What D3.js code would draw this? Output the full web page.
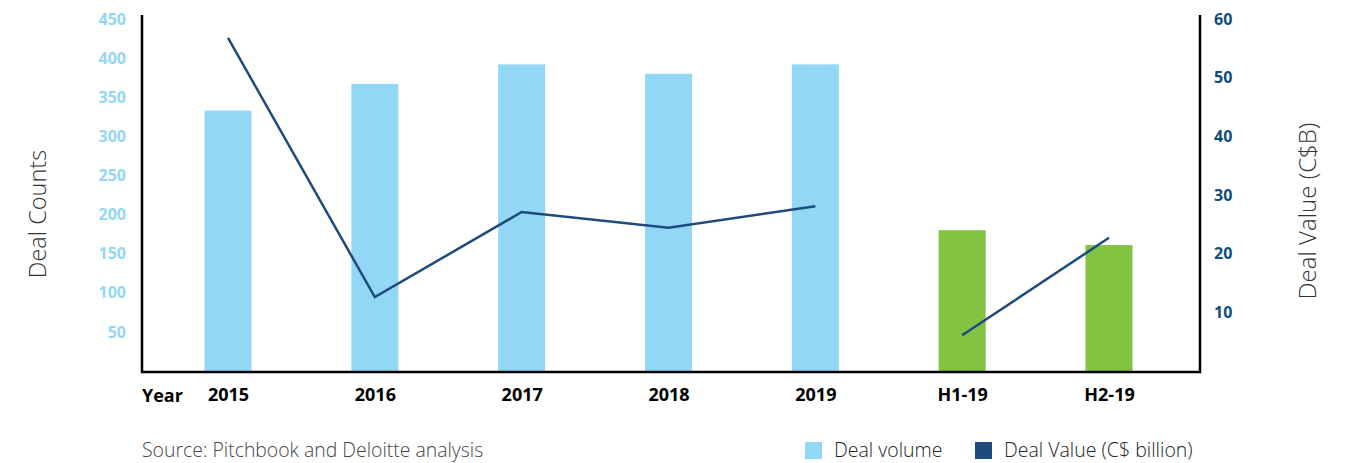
<!DOCTYPE html>
<html>
<head>
<meta charset="utf-8">
<script src="https://cdn.jsdelivr.net/npm/d3@7"></script>
<style>
  body { margin: 0; background: #fff; }
  svg { font-family: "Open Sans", sans-serif; }
</style>
</head>
<body>
<svg id="chart"></svg>
<script>
// chart data
var categories = ["2015", "2016", "2017", "2018", "2019", "H1-19", "H2-19"]
var dealVolume = [333, 367, 392, 380, 392, 180, 161]
var dealValue = [56.8, 12.6, 27.1, 24.4, 28.1, 6.1, 22.7]
var leftTicks = [50, 100, 150, 200, 250, 300, 350, 400, 450]
var rightTicks = [10, 20, 30, 40, 50, 60]
// the line is broken between the yearly and half-year points
var lineGroups = [[0, 1, 2, 3, 4], [5, 6]]

var screen = {width: 1348, height: 463}
var plot = {left: 142, right: 1200, top: 15, bottom: 372}

var svg = d3.select("#chart")
  .attr("width", screen.width)
  .attr("height", screen.height)

var xScale = d3.scalePoint()
  .domain(categories)
  .range([228, 1109])

var yLeft = d3.scaleLinear()
  .domain([0, 450])
  .range([371, 19])

var yRight = d3.scaleLinear()
  .domain([0, 60])
  .range([371, 19])

var barWidth = 47

// bars
svg.append("g")
  .selectAll("rect")
  .data(categories)
  .enter()
  .append("rect")
  .attr("x", function(d) { return xScale(d) - barWidth / 2 })
  .attr("y", function(d, i) { return yLeft(dealVolume[i]) })
  .attr("width", barWidth)
  .attr("height", function(d, i) { return yLeft(0) - yLeft(dealVolume[i]) + 1 })
  .attr("fill", function(d) { return d.indexOf("H") == 0 ? "#82c341" : "#93d7f6" })

// line segments
var line = d3.line()
  .x(function(i) { return xScale(categories[i]) })
  .y(function(i) { return yRight(dealValue[i]) })

svg.append("g")
  .selectAll("path")
  .data(lineGroups)
  .enter()
  .append("path")
  .attr("d", line)
  .attr("fill", "none")
  .attr("stroke", "#1f4a7c")
  .attr("stroke-width", 2.5)

// axis frame
svg.append("path")
  .attr("d", "M" + plot.left + "," + plot.top + "V" + plot.bottom + "H" + plot.right + "V" + plot.top)
  .attr("fill", "none")
  .attr("stroke", "#000")
  .attr("stroke-width", 2.5)

// left axis labels
var leftAxis = d3.axisLeft(yLeft).tickValues(leftTicks).tickSize(0).tickPadding(16)
svg.append("g")
  .attr("transform", "translate(" + plot.left + ",0)")
  .call(leftAxis)
  .call(function(g) { g.select(".domain").remove() })
  .selectAll("text")
  .attr("font-family", "Open Sans, sans-serif")
  .attr("font-size", 16)
  .attr("font-weight", "bold")
  .attr("fill", "#93d7f6")

// right axis labels
var rightAxis = d3.axisRight(yRight).tickValues(rightTicks).tickSize(0).tickPadding(14)
svg.append("g")
  .attr("transform", "translate(" + plot.right + ",0)")
  .call(rightAxis)
  .call(function(g) { g.select(".domain").remove() })
  .selectAll("text")
  .attr("font-family", "Open Sans, sans-serif")
  .attr("font-size", 16)
  .attr("font-weight", "bold")
  .attr("fill", "#0e4c80")

// x axis labels
var xAxis = d3.axisBottom(xScale).tickSize(0).tickPadding(16)
svg.append("g")
  .attr("transform", "translate(0," + plot.bottom + ")")
  .call(xAxis)
  .call(function(g) { g.select(".domain").remove() })
  .selectAll("text")
  .attr("font-family", "Open Sans, sans-serif")
  .attr("font-size", 18)
  .attr("font-weight", "bold")
  .attr("fill", "#000")

svg.append("text")
  .attr("x", plot.left)
  .attr("y", 402)
  .attr("font-size", 18)
  .attr("font-weight", "bold")
  .text("Year")

// axis titles
svg.append("text")
  .attr("transform", "translate(46,214) rotate(-90)")
  .attr("text-anchor", "middle")
  .attr("font-size", 23.5)
  .attr("font-weight", 300)
  .attr("fill", "#333")
  .text("Deal Counts")

svg.append("text")
  .attr("transform", "translate(1316,211) rotate(-90)")
  .attr("text-anchor", "middle")
  .attr("font-size", 24)
  .attr("font-weight", 300)
  .attr("fill", "#333")
  .text("Deal Value (C$B)")

// source
svg.append("text")
  .attr("x", plot.left)
  .attr("y", 457)
  .attr("font-size", 19.4)
  .attr("font-weight", 300)
  .attr("fill", "#444")
  .text("Source: Pitchbook and Deloitte analysis")

// legend
var legendItems = [
  {label: "Deal volume", color: "#93d7f6", x: 805},
  {label: "Deal Value (C$ billion)", color: "#1f4a7c", x: 975}
]
var legend = svg.append("g")
  .selectAll("g")
  .data(legendItems)
  .enter()
  .append("g")
  .attr("transform", function(d) { return "translate(" + d.x + ",442)" })

legend.append("rect")
  .attr("width", 17)
  .attr("height", 17)
  .attr("fill", function(d) { return d.color })

legend.append("text")
  .attr("x", 29)
  .attr("y", 15)
  .attr("font-size", 19.5)
  .attr("font-weight", 300)
  .attr("fill", "#222")
  .text(function(d) { return d.label })
</script>
</body>
</html>
